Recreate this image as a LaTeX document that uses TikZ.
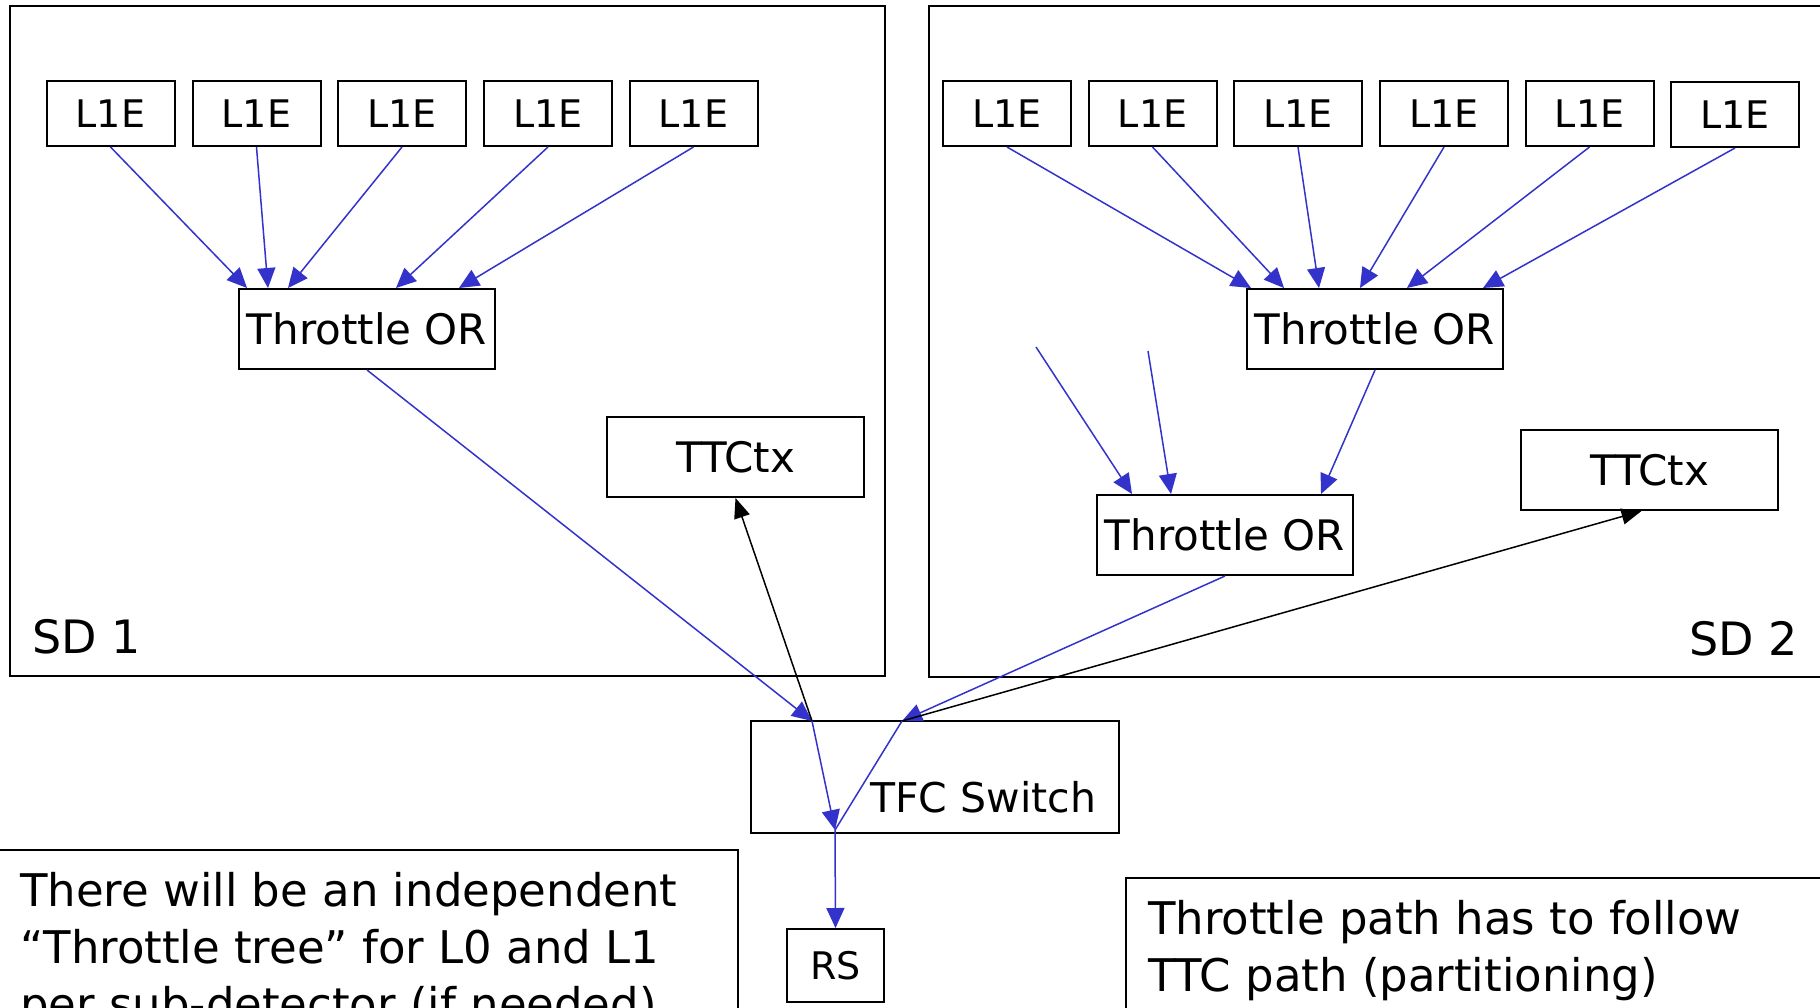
\documentclass[tikz,border=0pt]{standalone}
\usepackage{fontspec}
\setmainfont{DejaVu Sans}
\usetikzlibrary{arrows.meta,calc}
\definecolor{flowblue}{RGB}{51,51,204}
\tikzset{
  box/.style={draw, line width=2pt, inner sep=0pt, align=center},
  l1e/.style={box, minimum width=128pt, minimum height=65pt, font=\fontsize{38}{44}\selectfont},
  orbox/.style={box, minimum width=256pt, minimum height=80pt, font=\fontsize{42}{50}\selectfont},
  frame/.style={draw, line width=2pt},
  flow/.style={draw=flowblue, line width=1.5pt, -{Triangle[length=20pt,width=18pt]}},
  flowline/.style={draw=flowblue, line width=1.5pt},
  ctl/.style={draw=black, line width=1.5pt, -{Triangle[length=20pt,width=16pt]}},
  note/.style={anchor=base west, inner sep=0pt, font=\fontsize{45}{57}\selectfont},
  sdlabel/.style={inner sep=0pt, font=\fontsize{46}{54}\selectfont}
}
\begin{document}
\begin{tikzpicture}[x=1pt,y=-1pt]
\path[use as bounding box, clip] (0,0) rectangle (1820,1007);
\fill[white] (0,0) rectangle (1820,1007);

% sub-detector frames
\draw[frame] (10,6) rectangle (885,676);
\draw[frame] (929,6) rectangle (1840,677);
\node[sdlabel, anchor=base west] (sd1) at (32,653) {SD 1};
\node[sdlabel, anchor=base east] (sd2) at (1798,655) {SD 2};

% SD1 nodes
\node[l1e] (a1) at (110.5,113.5) {L1E};
\node[l1e] (a2) at (256.5,113.5) {L1E};
\node[l1e] (a3) at (402,113.5) {L1E};
\node[l1e] (a4) at (548,113.5) {L1E};
\node[l1e] (a5) at (693.5,113.5) {L1E};
\node[orbox] (tor1) at (367,329) {Throttle OR};
\node[orbox, minimum width=257pt] (ttc1) at (735.5,457) {TTCtx};

% SD2 nodes
\node[l1e] (b1) at (1007,113.5) {L1E};
\node[l1e] (b2) at (1152.5,113.5) {L1E};
\node[l1e] (b3) at (1298,113.5) {L1E};
\node[l1e] (b4) at (1444,113.5) {L1E};
\node[l1e] (b5) at (1589.5,113.5) {L1E};
\node[l1e] (b6) at (1735,114.5) {L1E};
\node[orbox] (tor2) at (1375,329) {Throttle OR};
\node[orbox] (tor3) at (1225,535) {Throttle OR};
\node[orbox, minimum width=257pt] (ttc2) at (1649.5,470) {TTCtx};
\coordinate (f1) at (1036,347);
\coordinate (f2) at (1148,351);

% switch and RS
\node[box, minimum width=368pt, minimum height=112pt] (tfc) at (935,777) {};
\node[anchor=base west, inner sep=0pt, font=\fontsize{41}{48}\selectfont] (tfclabel) at (870,812) {TFC Switch};
\node[box, minimum width=97pt, minimum height=73pt, font=\fontsize{38}{44}\selectfont] (rs) at (835.5,965.5) {RS};
\coordinate (j1) at (812,721);
\coordinate (j2) at (902,721);
\coordinate (j3) at (835,830);

% notes
\draw[frame] (-5,850) rectangle (738,1020);
\node[note] (n1a) at (20,906) {There will be an independent};
\node[note] (n1b) at (20,963) {“Throttle tree” for L0 and L1};
\node[note] (n1c) at (20,1020) {per sub-detector (if needed)};
\draw[frame] (1126,878) rectangle (1840,1020);
\node[note] (n2a) at (1148,934) {Throttle path has to follow};
\node[note] (n2b) at (1148,991) {TTC path (partitioning)};

% SD1 connectors
\draw[flow] (a1.south) -- ([xshift=9pt]tor1.north west);
\draw[flow] (a2.south) -- ([xshift=30pt]tor1.north west);
\draw[flow] (a3.south) -- ([xshift=50pt]tor1.north west);
\draw[flow] (a4.south) -- ([xshift=158pt]tor1.north west);
\draw[flow] (a5.south) -- ([xshift=221pt]tor1.north west);

% SD2 connectors
\draw[flow] (b1.south) -- ([xshift=5pt]tor2.north west);
\draw[flow] (b2.south) -- ([xshift=38pt]tor2.north west);
\draw[flow] (b3.south) -- ([xshift=73pt]tor2.north west);
\draw[flow] (b4.south) -- ([xshift=114pt]tor2.north west);
\draw[flow] (b5.south) -- ([xshift=161pt]tor2.north west);
\draw[flow] (b6.south) -- ([xshift=237pt]tor2.north west);
\draw[flow] (f1) -- ([xshift=36pt]tor3.north west);
\draw[flow] (f2) -- ([xshift=75pt]tor3.north west);
\draw[flow] (tor2.south) -- ([xshift=225pt]tor3.north west);

% to the switch
\draw[flow] (tor1.south) -- (j1);
\draw[flow] (tor3.south) -- (j2);
\draw[ctl] (j1) -- (ttc1.south);
\draw[ctl] (j2) -- ([xshift=-8pt]ttc2.south);
\draw[flow] (j1) -- (j3);
\draw[flowline] (j2) -- (j3);
\draw[flow] (j3) -- (rs.north);
\end{tikzpicture}
\end{document}
